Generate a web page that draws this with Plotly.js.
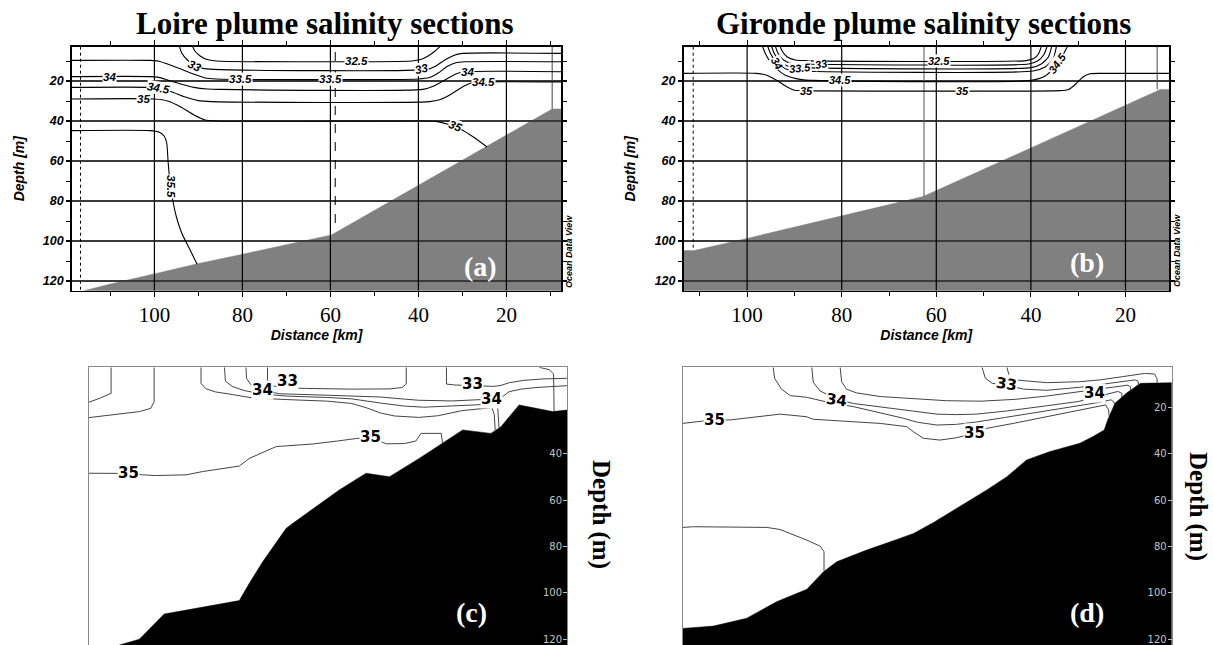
<!DOCTYPE html>
<html>
<head>
<meta charset="utf-8">
<script src="https://cdn.plot.ly/plotly-3.0.1.min.js"></script>
<style>html,body{margin:0;padding:0;background:#fff}#chart{width:1213px;height:645px}</style>
</head>
<body>
<div id="chart"></div>
<script>
// ================= DATA =================
// Tick values
const distTicks = [100, 80, 60, 40, 20];
const depthTicksAB = [20, 40, 60, 80, 100, 120];
const depthTicksC = [40, 60, 80, 100, 120];
const depthTicksD = [20, 40, 60, 80, 100, 120];

// ---- (a) Loire ODV section: [distance km, depth m] ----
const loireBathy = [[116, 124.85], [110, 121.5], [99.6, 116.2], [90, 111.3], [79.7, 106.5], [70, 101.8], [59.8, 97], [58.4, 95.3], [9.6, 34], [7.5, 34]];
const loireS325 = [[91.3, 2.85], [90.8, 5], [89.6, 7.5], [88, 9.3], [86, 10], [41.5, 10], [39.5, 9.3], [37.8, 7.5], [36.2, 5], [35.1, 2.85]];
const loireS33 = [[94.3, 2.85], [93.8, 6], [92.5, 9.5], [90.8, 12.3], [89, 13.7], [86.5, 14.2], [38, 14.2], [36, 12.5], [34, 9.5], [32, 7.2], [30, 6.2], [7.5, 6.2]];
const loireS335 = [[118.8, 9.7], [101, 9.7], [99, 10.1], [97, 11.5], [94, 14], [91, 16.6], [88.5, 18.5], [86, 19], [40, 19], [37.5, 18.3], [35.5, 16], [33.5, 12.8], [31.5, 10.9], [29.5, 10.4], [7.5, 10.4]];
const loireS34 = [[118.8, 17.8], [101, 17.8], [99, 18.2], [97, 19.5], [94, 21.5], [91, 23.2], [88, 24], [85, 24.2], [39, 24.2], [36.5, 22.5], [34, 19.5], [31.5, 16.5], [29.5, 15.4], [7.5, 15.4]];
const loireS345 = [[118.8, 23.2], [101, 23.2], [98.5, 23.8], [96, 25.5], [93, 28], [90, 29.8], [87, 30.3], [37.5, 30.3], [35, 29.2], [32.5, 26.5], [30, 23], [28, 21], [26, 20.5], [7.5, 20.5]];
const loireS35 = [[118.8, 29], [100, 29], [97, 30], [94, 33], [91, 37], [88.5, 39.5], [86, 40], [40, 40], [36, 40.2], [33.5, 41.5], [30.5, 44], [27.5, 48], [24.4, 53]];
const loireS355 = [[118.8, 44.8], [101, 44.8], [99, 45.5], [97.8, 47.5], [97.2, 51], [96.9, 60], [96.5, 70], [95.8, 80], [95, 88], [93.8, 96], [92, 104], [90.3, 111.6]];
const loireStationX = [116.8, 58.9, 9.6];
const loireStationTop = [2.85, 5.5, 2.85];
const loireStationBottom = [124.85, 95.5, 34];
const loireLabelText = ['34', '34.5', '35', '33', '33.5', '33.5', '32.5', '33', '34', '34.5', '35', '35.5'];
const loireLabelX = [110.3, 99.1, 102.5, 90.8, 80.5, 59.9, 54.1, 39.4, 28.8, 25.2, 31.6, 96.1];
const loireLabelY = [17.8, 23.7, 29, 12.6, 19, 19, 10, 13.9, 15.4, 20.6, 42.3, 72.8];

// ---- (b) Gironde ODV section ----
const girBathy = [[113.45, 104.8], [111.2, 104.8], [100, 98.7], [79.8, 87.5], [62.8, 77.8], [12.6, 24.2], [10.8, 24.2]];
const girS325 = [[93.0, 2.85], [92.6, 5], [91.5, 8], [89.8, 9.5], [88, 9.8], [41, 9.8], [39.4, 8.8], [38.4, 6.5], [37.8, 2.85]];
const girS33 = [[94, 2.85], [93.5, 6], [92.3, 9.5], [90.5, 11.2], [88, 11.5], [40.5, 11.5], [38.6, 10], [37.3, 7], [36.6, 2.85]];
const girS335 = [[94.8, 2.85], [94.3, 6], [93, 10.5], [91, 12.9], [88.5, 13.3], [40, 13.3], [37.8, 11.5], [36.3, 8], [35.6, 2.85]];
const girS34 = [[95.6, 2.85], [95.1, 6], [93.7, 11], [91.5, 14.3], [88.5, 15], [39.5, 15], [37, 13], [35.3, 9], [34.6, 2.85]];
const girS345 = [[96.7, 2.85], [96.2, 6], [94.6, 12], [92, 17], [88.5, 19.3], [86, 19.7], [40, 19.7], [37, 17.5], [34.5, 12], [33, 6], [32.3, 2.85]];
const girS35 = [[113.45, 16.2], [98, 16.2], [96, 17], [93.5, 20], [91.5, 23], [90, 24.6], [88, 24.8], [34, 24.8], [32, 24.2], [30.5, 21.5], [29, 18], [27.5, 16.4], [25, 16.2], [10.8, 16.2]];
const girStationX = [111.4, 62.6, 13.3];
const girStationTop = [2.85, 2.85, 2.85];
const girStationBottom = [104.8, 77.8, 24.2];
const girLabelText = ['32.5', '33', '33.5', '34', '34.5', '35', '35', '34.5'];
const girLabelX = [59.5, 84.4, 88.8, 93.7, 80.3, 87.4, 54.5, 34.4];
const girLabelY = [9.8, 11.4, 13.5, 11, 19.7, 24.8, 24.8, 11];

// ---- (c) Loire model section: [relative position %, depth m] ----
const cBathy = [[6.4, 122.5], [10.6, 120], [15.8, 109.1], [31.5, 103.3], [33.6, 95.8], [36.4, 86.5], [41.3, 72.1], [42.7, 69.9], [52.4, 55.5], [58, 48.3], [62.9, 49.8], [69.1, 41.9], [78.2, 29.6], [84.1, 31.1], [86.2, 28.2], [90, 18.8], [97, 21.7], [100, 21]];
const cLine1 = [[4.7, 2.57], [4.7, 13.8], [2.5, 15.8], [0, 17.7]];
const cLine2 = [[13.7, 2.57], [13.7, 17.4], [13, 20.3], [10.6, 21.7], [0, 24.3]];
const cLine3 = [[23.5, 2.57], [23.5, 9.5], [24.5, 11.8], [26.5, 13.2], [30, 14.3], [34.3, 15.8], [41.3, 16.5], [50, 17.2], [55, 18.2], [58, 20], [61, 22.3], [64, 23.6], [69, 24.2], [73, 23.5], [78, 21.3], [82, 20.3], [84.3, 20], [84.8, 23], [85, 29.9]];
const cLine4 = [[28.4, 2.57], [28.6, 8.5], [30, 10.8], [32.5, 12.6], [36, 14], [41.3, 15], [50, 15.6], [55, 16.2], [61, 18], [66, 19.3], [70, 19.8], [76, 19.4], [81, 18.8], [84.5, 18.3], [85.5, 19.5], [85.8, 28.8]];
const cS33a = [[37.4, 2.57], [37.4, 9.2], [38.6, 10.6], [41, 11.4], [45.4, 11.7], [55, 12], [63, 11.9], [65.5, 11.3], [66.4, 9.8], [66.4, 2.57]];
const cS34 = [[32.9, 2.57], [33, 7.3], [33.8, 9.8], [34.5, 10.8], [36.4, 12.5], [39.9, 14], [48, 14.5], [55, 14.9], [61, 15.4], [66, 16.3], [69, 16.8], [76, 17.1], [81, 16.8], [84.3, 16.3], [86.5, 15.3], [87.9, 13.1], [90.4, 12], [93.5, 11.3], [100, 10.5]];
const cS33b = [[74.8, 2.57], [74.8, 9.8], [76.5, 10.2], [80.2, 10.5], [82.8, 10.5], [84.5, 10.8], [86, 10.5], [88, 9.2], [91, 8.2], [95, 7.6], [100, 7.3]];
const cTopRight = [[94.2, 2.57], [96.3, 3.6], [97.2, 5.5], [97.3, 14], [97.3, 21.6]];
const cS35 = [[0, 48.3], [8.3, 48.4], [11.3, 49], [14, 49.3], [20.4, 49], [23.8, 47.6], [31.5, 45.2], [33.6, 41.9], [39.2, 36.8], [46.8, 35.7], [52, 34.4], [56, 33.3], [59, 33], [62.2, 35.6], [66, 35.5], [68.4, 34.4], [69.5, 31.1], [73.7, 31.1], [74, 35.3]];
const cLabelText = ['35', '35', '34', '34', '33', '33'];
const cLabelX = [8.3, 59, 36.4, 84.2, 41.5, 80.2];
const cLabelY = [48.4, 32.8, 12.3, 16.4, 8.6, 9.6];

// ---- (d) Gironde model section ----
const dBathy = [[0, 115.3], [6.3, 114.3], [13.1, 110.9], [19.2, 103.8], [25.4, 98.4], [28.8, 90.8], [31.5, 86.5], [37.6, 81.5], [43.8, 76.9], [47.2, 74.3], [51.2, 69.7], [56, 63.5], [62.2, 55.5], [66.3, 49.8], [70.3, 42.6], [75, 39], [78.7, 36.8], [81.2, 35.4], [83.9, 32.5], [86.2, 29.6], [86.9, 25.3], [88.4, 18.1], [90.7, 13.8], [93.6, 9.5], [100, 9.2]];
const dLine35 = [[0, 26.8], [6.5, 25.2], [9.7, 25.3], [19.9, 22.8], [25.3, 23.9], [26.7, 25], [40.4, 26.8], [45.8, 28.2], [47.2, 30.4], [49.2, 33.2], [52.6, 34], [56, 33], [59.7, 31], [62.2, 28.9], [67.6, 26.8], [74.4, 23.9], [81.2, 21], [85, 19.3], [86.5, 18.8], [87.1, 21], [87.2, 23.5]];
const dLine345 = [[18.5, 2.57], [18.8, 7.3], [20.2, 12], [22, 14.8], [25.3, 15.5], [30, 17.8], [35, 19.6], [40, 22], [45, 24.5], [48, 26.3], [52, 27.5], [56, 27.2], [60, 26.2], [66, 24.2], [74.4, 21.5], [81, 19.3], [85.5, 17.6], [87.6, 16.6], [88.2, 17.6], [88.3, 18.6]];
const dLine34 = [[26.4, 2.57], [26.7, 9], [28.1, 12.8], [29.5, 14.2], [31.5, 16.3], [34.9, 18.2], [40.4, 19.8], [47.2, 21.5], [52, 22.8], [56, 23], [60, 22.8], [66, 21.5], [74.4, 19.2], [81, 17.3], [84.3, 15.5], [86.5, 14.2], [89, 13], [89.8, 13.8], [89.8, 15.5]];
const dLine335 = [[32.2, 2.57], [32.5, 8.8], [33.5, 12], [35.5, 13.6], [40.4, 15.2], [47.2, 16.2], [54, 17], [61, 17.2], [68, 16.4], [74.4, 15], [81.2, 13], [85, 12], [88, 11.3], [91, 10.3], [91.6, 11], [91.6, 12.5]];
const dLine33 = [[61.2, 2.57], [61.9, 7.3], [63.3, 9.5], [66.3, 10.3], [69.7, 12], [74.4, 12.5], [81.2, 11.2], [84.6, 10.3], [88, 9.3], [92.5, 8], [93.1, 8.5], [93.2, 10]];
const dLine325 = [[66.3, 2.57], [66.9, 7.3], [68.5, 8.1], [74.4, 9.2], [81.2, 8.8], [85.3, 8], [90, 6.6], [94.5, 5.2], [96.5, 5.5], [97, 7.5], [97, 9.3]];
const dLoop = [[0, 71.7], [2.2, 71.4], [17.2, 71.7], [19.9, 72.6], [25.4, 77.2], [28.1, 79.8], [28.9, 82.2], [28.9, 90.4]];
const dLabelText = ['35', '35', '34', '34', '33'];
const dLabelX = [6.5, 59.7, 31.5, 84.3, 66.3];
const dLabelY = [25.2, 31, 16.8, 13.5, 9.8];

// ================= STYLE / LAYOUT =================
const W = 1213, H = 645;
const loireRangeX = [118.8, 7.5], loireRangeY = [124.85, 2.85];
const girRangeX = [113.45, 10.8], girRangeY = [124.85, 2.85];
const secRangeX = [0, 100], secRangeY = [122.47, 2.57];
const loireLabelAngle = [0, 10, 0, 25, 0, 0, 0, -12, 0, 0, 22, 90];
const girLabelAngle = [0, -10, -5, 60, 0, 0, 0, -55, 0];
const cLabelAngle = [0, 0, 0, 0, 0, 0];
const dLabelAngle = [0, 0, 8, 0, 8];

const px = v => v / W;
const py = v => 1 - v / H;
const xs = pts => pts.map(p => p[0]);
const ys = pts => pts.map(p => p[1]);

const traces = [];
function lineTrace(xa, ya, pts, color, width, smooth) {
  traces.push({type: 'scatter', mode: 'lines', x: xs(pts), y: ys(pts), xaxis: xa, yaxis: ya,
    line: smooth ? {color: color, width: width, shape: 'spline', smoothing: 0.6} : {color: color, width: width},
    hoverinfo: 'skip'});
}
function straightTrace(xa, ya, xv, yv, color, width, dash) {
  traces.push({type: 'scatter', mode: 'lines', x: xv, y: yv, xaxis: xa, yaxis: ya,
    line: {color: color, width: width, dash: dash || 'solid'}, hoverinfo: 'skip'});
}
function bathyTrace(xa, ya, pts, range, color) {
  const floor = Math.max(range[0], range[1]) + 10;
  const xv = xs(pts).concat([pts[pts.length - 1][0], pts[0][0]]);
  const yv = ys(pts).concat([floor, floor]);
  traces.push({type: 'scatter', mode: 'lines', x: xv, y: yv, xaxis: xa, yaxis: ya, fill: 'toself',
    fillcolor: color, line: {color: color, width: 0.5}, hoverinfo: 'skip'});
}
function gridTraces(xa, ya, xt, yt, rx, ry) {
  yt.forEach(v => straightTrace(xa, ya, [rx[0], rx[1]], [v, v], '#3a3a3a', 1.8));
  xt.forEach(v => straightTrace(xa, ya, [v, v], [ry[0], ry[1]], '#000', 1.2));
}
function stationTraces(xa, ya, sx, st, sb, dashes, colors) {
  sx.forEach((v, i) => straightTrace(xa, ya, [v, v], [st[i], sb[i]], colors[i], 1, dashes[i]));
}

// (a)
bathyTrace('x', 'y', loireBathy, loireRangeY, '#808080');
gridTraces('x', 'y', distTicks, depthTicksAB, loireRangeX, loireRangeY);
stationTraces('x', 'y', loireStationX, loireStationTop, loireStationBottom, ['dot', 'dash', 'solid'], ['#000', '#000', '#444']);
[loireS325, loireS33, loireS335, loireS34, loireS345, loireS35, loireS355].forEach(s => lineTrace('x', 'y', s, '#000', 1.1, true));
// (b)
bathyTrace('x2', 'y2', girBathy, girRangeY, '#808080');
gridTraces('x2', 'y2', distTicks, depthTicksAB, girRangeX, girRangeY);
stationTraces('x2', 'y2', girStationX, girStationTop, girStationBottom, ['dot', 'solid', 'solid'], ['#000', '#555', '#444']);
[girS325, girS33, girS335, girS34, girS345, girS35].forEach(s => lineTrace('x2', 'y2', s, '#000', 1.1, true));
// (c)
bathyTrace('x3', 'y3', cBathy, secRangeY, '#000');
[cLine1, cLine2, cLine3, cLine4, cS33a, cS34, cS33b, cTopRight, cS35].forEach(s => lineTrace('x3', 'y3', s, '#444', 1, false));
// (d)
bathyTrace('x4', 'y4', dBathy, secRangeY, '#000');
[dLine35, dLine345, dLine34, dLine335, dLine33, dLine325, dLoop].forEach(s => lineTrace('x4', 'y4', s, '#444', 1, false));

// ---- axes ----
const serif = 'Liberation Serif, Times New Roman, serif';
const sans = 'Liberation Sans, Arial, sans-serif';
function distAxis(d0, d1, range, anchor) {
  return {domain: [px(d0), px(d1)], range: range, anchor: anchor, tickmode: 'array', tickvals: distTicks,
    ticks: 'outside', ticklen: 5, tickwidth: 1.2, tickcolor: '#000',
    minor: {dtick: 10, tick0: 0, ticks: 'outside', ticklen: 4, tickwidth: 1, tickcolor: '#000'},
    showgrid: false, zeroline: false, showline: true, mirror: 'ticks', linecolor: '#000', linewidth: 1.5,
    tickfont: {family: serif, size: 21, color: '#000'},
    title: {text: 'Distance [km]', font: {family: sans, size: 14, color: '#000', weight: 'bold', style: 'italic'}, standoff: 2},
    fixedrange: true};
}
function depthAxis(top, bottom, range, anchor) {
  return {domain: [py(bottom), py(top)], range: range, anchor: anchor, tickmode: 'array', tickvals: depthTicksAB,
    ticks: 'outside', ticklen: 4, tickwidth: 1.2, tickcolor: '#000',
    minor: {dtick: 10, tick0: 0, ticks: 'outside', ticklen: 4, tickwidth: 1, tickcolor: '#000'},
    showgrid: false, zeroline: false, showline: true, mirror: 'ticks', linecolor: '#000', linewidth: 1.5,
    tickfont: {family: sans, size: 12.5, color: '#000', weight: 'bold', style: 'italic'},
    title: {text: 'Depth [m]', font: {family: sans, size: 14, color: '#000', weight: 'bold', style: 'italic'}, standoff: 15},
    fixedrange: true};
}
function secXAxis(d0, d1, anchor) {
  return {domain: [px(d0), px(d1)], range: secRangeX, anchor: anchor, showticklabels: false, ticks: '',
    showgrid: false, zeroline: false, showline: true, mirror: true, linecolor: '#888', linewidth: 1, fixedrange: true};
}
function secYAxis(top, bottom, ticks, anchor) {
  return {domain: [Math.max(0, py(bottom)), py(top)], range: secRangeY, anchor: anchor, side: 'right',
    tickmode: 'array', tickvals: ticks, ticks: 'inside', ticklen: 4, tickcolor: '#bdbdbd', tickwidth: 1,
    ticklabelposition: 'inside', tickfont: {family: 'DejaVu Sans, sans-serif', size: 10, color: '#c4c4c4'},
    showgrid: false, zeroline: false, showline: true, mirror: true, linecolor: '#888', linewidth: 1, fixedrange: true};
}

const annotations = [];
function note(x, y, text, font, extra) {
  annotations.push(Object.assign({xref: 'paper', yref: 'paper', x: px(x), y: py(y), text: text, showarrow: false,
    xanchor: 'center', yanchor: 'middle', font: font}, extra || {}));
}
function contourLabels(xr, yr, texts, xv, yv, angles, font) {
  texts.forEach((t, i) => annotations.push({xref: xr, yref: yr, x: xv[i], y: yv[i], text: t, showarrow: false,
    textangle: angles[i], font: font, bgcolor: '#fff', borderpad: 0, xanchor: 'center', yanchor: 'middle'}));
}
const odvFont = {family: sans, size: 11.5, color: '#000', weight: 'bold', style: 'italic'};
const secFont = {family: 'DejaVu Sans, sans-serif', size: 15, color: '#000', weight: 'bold'};
contourLabels('x', 'y', loireLabelText, loireLabelX, loireLabelY, loireLabelAngle, odvFont);
contourLabels('x2', 'y2', girLabelText, girLabelX, girLabelY, girLabelAngle, Object.assign({}, odvFont, {size: 11}));
contourLabels('x3', 'y3', cLabelText, cLabelX, cLabelY, cLabelAngle, secFont);
contourLabels('x4', 'y4', dLabelText, dLabelX, dLabelY, dLabelAngle, secFont);

const titleFont = {family: serif, size: 31, color: '#000', weight: 'bold'};
note(324, 23, 'Loire plume salinity sections', titleFont);
note(923, 23, 'Gironde plume salinity sections', titleFont);
const panelFont = {family: serif, size: 28, color: '#fff', weight: 'bold'};
note(480, 266, '(a)', panelFont);
note(1087, 263, '(b)', panelFont);
note(471, 612, '(c)', panelFont);
note(1087, 612, '(d)', panelFont);
const odvTag = {family: sans, size: 9, color: '#000', weight: 'bold', style: 'italic'};
note(569, 252, 'Ocean Data View', odvTag, {textangle: -90});
note(1177, 251, 'Ocean Data View', odvTag, {textangle: -90});
const depthFont = {family: serif, size: 25, color: '#000', weight: 'bold'};
note(601, 514, 'Depth (m)', depthFont, {textangle: 90});
note(1198, 506, 'Depth (m)', depthFont, {textangle: 90});

const layout = {
  width: W, height: H, margin: {l: 0, r: 0, t: 0, b: 0, pad: 0},
  paper_bgcolor: '#fff', plot_bgcolor: '#fff', showlegend: false,
  xaxis: distAxis(71.7, 561.4, loireRangeX, 'y'),
  yaxis: depthAxis(46.7, 290.7, loireRangeY, 'x'),
  xaxis2: distAxis(683.5, 1169, girRangeX, 'y2'),
  yaxis2: depthAxis(46.7, 290.7, girRangeY, 'x2'),
  xaxis3: secXAxis(88.6, 567, 'y3'),
  yaxis3: secYAxis(367.3, 645, depthTicksC, 'x3'),
  xaxis4: secXAxis(682.7, 1171.7, 'y4'),
  yaxis4: secYAxis(367.3, 645, depthTicksD, 'x4'),
  annotations: annotations
};

Plotly.newPlot('chart', traces, layout, {staticPlot: true, displayModeBar: false});
</script>
</body>
</html>
